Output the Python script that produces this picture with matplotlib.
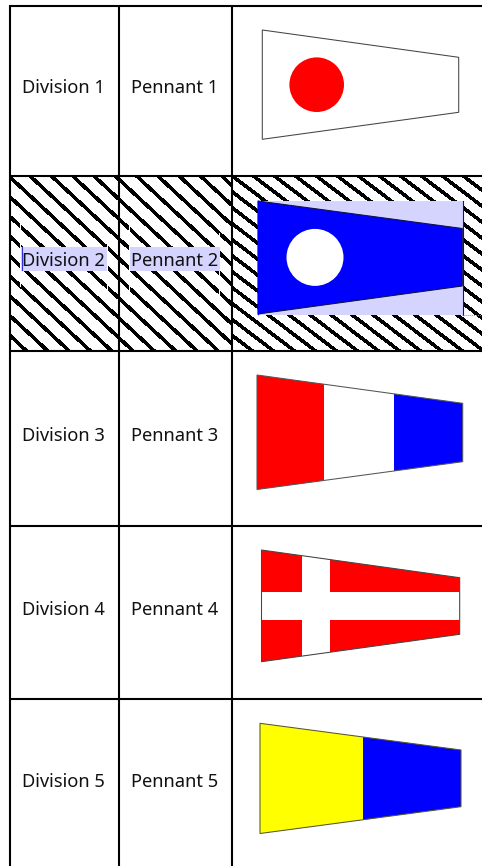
"""
Division / pennant table with signal flags.
"""
import numpy as np
import matplotlib
matplotlib.use('Agg')
import matplotlib.pyplot as plt
from matplotlib.patches import Polygon, Rectangle, Circle

WIDTH, HEIGHT = 482, 866

divisions = ['Division 1', 'Division 2', 'Division 3', 'Division 4', 'Division 5']
pennants = ['Pennant 1', 'Pennant 2', 'Pennant 3', 'Pennant 4', 'Pennant 5']
text_y = [92.7, 265.7, 440.7, 614.7, 786.7]

# table rules, in pixels of the reference
col_x = [10.3, 119, 232]
row_y = [6, 176, 351, 525.5, 699]

# pennant outlines: x left, x right, top left, top right, bottom right, bottom left
flag1 = [262.3, 458.7, 30, 57.3, 112.3, 139.3]
flag2 = [258, 462.3, 201, 228.5, 286, 314]
flag3 = [257, 462.7, 375, 403.3, 461.7, 489.5]
flag4 = [261.5, 459.7, 550, 577.7, 634.3, 661.7]
flag5 = [260, 461, 723.3, 750, 806.7, 833.5]

LAVENDER = '#d4d4ff'

fig = plt.figure(figsize=(WIDTH / 100, HEIGHT / 100), dpi=100)
ax = fig.add_axes([0, 0, 1, 1])
ax.set_xlim(0, WIDTH)
ax.set_ylim(HEIGHT, 0)
ax.axis('off')


def draw_stripes(x0, x1, y0, y1, start_x, start_y, slope, step):
    """Jagged diagonal stripes clipped to one cell."""
    clip = Rectangle((x0, y0), x1 - x0, y1 - y0, transform=ax.transData)
    for k in np.arange(-40, 40):
        sx = start_x + k * step
        xs = np.array([x0 - 5, x1 + 5])
        ys = start_y + (xs - sx) * slope
        line, = ax.plot(xs, ys, color='black', lw=1.7, antialiased=False,
                        solid_capstyle='butt', zorder=1)
        line.set_clip_path(clip)


def flag_patch(flag, face):
    xl, xr, tl, tr, br, bl = flag
    patch = Polygon([(xl, tl), (xr, tr), (xr, br), (xl, bl)], closed=True,
                    facecolor=face, edgecolor='none', zorder=3)
    ax.add_patch(patch)
    return patch


def flag_outline(flag, edge):
    xl, xr, tl, tr, br, bl = flag
    ax.add_patch(Polygon([(xl, tl), (xr, tr), (xr, br), (xl, bl)], closed=True,
                         facecolor='none', edgecolor=edge, linewidth=0.75, zorder=5))


def flag_band(patch, x0, x1, y0, y1, color):
    band = Rectangle((x0, y0), x1 - x0, y1 - y0, facecolor=color, edgecolor='none', zorder=4)
    ax.add_patch(band)
    band.set_clip_path(patch)


# hatched row
draw_stripes(col_x[0], col_x[2], row_y[1], row_y[2], 11.7, 178.7, 0.93, 21.3)
draw_stripes(col_x[2], WIDTH, row_y[1], row_y[2], 235, 178, 0.76, 21)

# white slivers left beside the selected text
for x0, x1, y0, y1 in [(20, 21, 220, 287), (107, 108, 233, 303),
                       (129, 130, 220, 305), (219, 220, 233, 300)]:
    ax.add_patch(Rectangle((x0, y0), x1 - x0, y1 - y0, facecolor='white', edgecolor='none', zorder=1.5))

# selection highlights
ax.add_patch(Rectangle((21, 247), 85.5, 23.5, facecolor=LAVENDER, edgecolor='none', zorder=2))
ax.add_patch(Rectangle((130, 247), 90, 23.5, facecolor=LAVENDER, edgecolor='none', zorder=2))
ax.plot([21.5, 21.5], [247, 270], color='#3030e0', lw=0.8, zorder=5)
ax.add_patch(Rectangle((258, 201), 204.5, 114, facecolor=LAVENDER, edgecolor='none', zorder=2))
ax.plot([462.5, 462.5], [201, 315], color='#0000ff', lw=0.8, zorder=5)
ax.plot([462, WIDTH], [314.5, 314.5], color='#8080ff', lw=0.7, ls=(0, (1, 1)), zorder=5)

# table rules
for x in col_x:
    ax.plot([x, x], [row_y[0] - 1, HEIGHT], color='black', lw=1.5, solid_capstyle='butt', zorder=6)
for y in row_y:
    ax.plot([col_x[0] - 1, WIDTH], [y, y], color='black', lw=1.5, solid_capstyle='butt', zorder=6)

# flag 1
flag_patch(flag1, 'white')
flag_outline(flag1, '#444444')
ax.add_patch(Circle((316.7, 84.7), 27.3, facecolor='#ff0000', edgecolor='none', zorder=5))

# flag 2
flag_patch(flag2, '#0000ff')
flag_outline(flag2, '#101040')
ax.plot([258, 258], [201, 314], color='#0000ff', lw=1.0, zorder=5.5)
ax.add_patch(Circle((315, 257.4), 28.5, facecolor='white', edgecolor='none', zorder=5))

# flag 3
p3 = flag_patch(flag3, 'white')
flag_band(p3, 257, 324, 370, 495, '#ff0000')
flag_band(p3, 394, 463, 370, 495, '#0000ff')
flag_outline(flag3, '#555555')

# flag 4
p4 = flag_patch(flag4, '#ff0000')
flag_band(p4, 302.3, 330, 545, 665, 'white')
flag_band(p4, 261, 460, 592, 620, 'white')
flag_outline(flag4, '#444444')

# flag 5
p5 = flag_patch(flag5, '#ffff00')
flag_band(p5, 362.7, 462, 718, 838, '#0000ff')
flag_outline(flag5, '#555533')

# labels
for name, pen, y in zip(divisions, pennants, text_y):
    ax.text(63.7, y, name, ha='center', va='baseline', fontsize=13.2, family='Noto Sans',
            color='#111111', zorder=7)
    ax.text(175, y, pen, ha='center', va='baseline', fontsize=13.2, family='Noto Sans',
            color='#111111', zorder=7)

fig.savefig('out.png', dpi=100)
